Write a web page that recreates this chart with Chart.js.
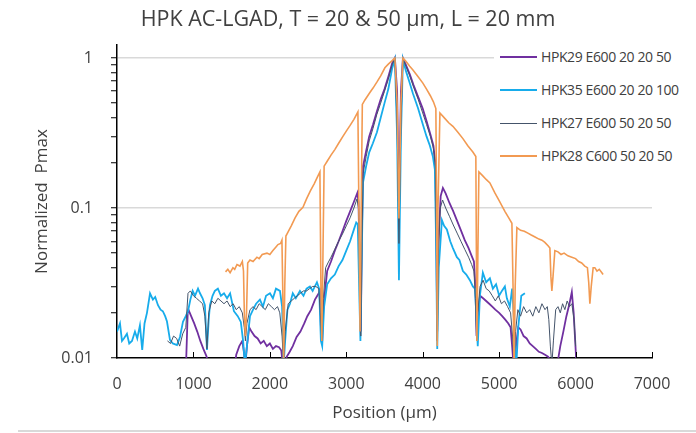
<!DOCTYPE html>
<html>
<head>
<meta charset="utf-8">
<script src="https://cdn.jsdelivr.net/npm/chart.js@4.4.1/dist/chart.umd.min.js"></script>
<style>
  html, body { margin: 0; padding: 0; background: #fff; overflow: hidden; }
  #wrap { position: relative; width: 696px; height: 433px; }
  #c { position: absolute; left: 0; top: 0; }
  #title { position: absolute; left: 0; top: 4px; width: 696px; text-align: center; font-family: "Open Sans", sans-serif; font-size: 21.5px; line-height: 28px; color: #404040; padding-left: 0; }
  #legend { position: absolute; left: 494px; top: 40px; width: 202px; height: 132px; background: #fff; overflow: hidden; }
  .row { position: absolute; left: 0; height: 20px; white-space: nowrap; }
  .swatch { position: absolute; left: 6px; width: 37px; }
  .lbl { position: absolute; left: 47px; top: 0; font-family: "Open Sans", sans-serif; font-size: 14px; line-height: 20px; color: #404040; letter-spacing: -0.4px; }
  #bottomline { position: absolute; left: 18px; top: 430px; width: 678px; height: 2px; background: #d9d9d9; }
</style>
</head>
<body>
<div id="wrap">
  <canvas id="c" width="696" height="433"></canvas>
  <div id="title"></div>
  <div id="legend"></div>
  <div id="bottomline"></div>
</div>
<script>
// ---------- DATA ----------
const chartTitle = "HPK AC-LGAD, T = 20 & 50 \u00b5m, L = 20 mm";
const xAxisTitle = "Position (\u00b5m)";
const yAxisTitle = "Normalized  Pmax";
const xTickValues = [0, 1000, 2000, 3000, 4000, 5000, 6000, 7000];
const yLabelValues = [0.01, 0.1, 1];
const yMinorTicks = [0.01,0.02,0.03,0.04,0.05,0.06,0.07,0.08,0.09,0.1,0.2,0.3,0.4,0.5,0.6,0.7,0.8,0.9,1];
const seriesNames = ["HPK29 E600 20 20 50", "HPK35 E600 20 20 100", "HPK27 E600 50 20 50", "HPK28 C600 50 20 50"];

// HPK29 E600 20 20 50 (purple)
const hpk29X = [900,925,935,970,1010,1050,1090,1130,1170,1200,1300,1450,1530,1560,1600,1640,1660,1680,1700,1730,1760,1800,1840,1880,1920,1960,2000,2040,2080,2120,2150,2180,2220,2260,2300,2350,2400,2450,2490,2540,2590,2640,2655,2668,2685,2700,2750,2800,2850,2900,2950,3000,3050,3100,3145,3160,3175,3190,3205,3220,3260,3300,3350,3400,3450,3500,3550,3600,3636,3665,3689,3715,3741,3780,3830,3880,3940,4000,4050,4100,4140,4165,4178,4190,4205,4235,4264,4300,4350,4400,4450,4500,4550,4600,4640,4670,4690,4705,4720,4750,4790,4830,4870,4910,4950,5000,5040,5080,5120,5150,5170,5195,5220,5250,5280,5320,5360,5400,5440,5480,5520,5560,5600,5640,5680,5720,5760,5800,5840,5880,5920,5951,5975,5995,6017];
const hpk29Y = [0.008,0.02,0.021,0.019,0.017,0.015,0.013,0.0115,0.0103,0.009,0.008,0.008,0.008,0.0105,0.012,0.013,0.011,0.009,0.012,0.016,0.015,0.014,0.0135,0.0125,0.013,0.012,0.0125,0.0115,0.012,0.0118,0.0112,0.008,0.0102,0.011,0.012,0.0138,0.015,0.017,0.019,0.021,0.0245,0.027,0.028,0.016,0.013,0.022,0.038,0.044,0.052,0.06,0.07,0.082,0.095,0.11,0.126,0.11,0.04,0.015,0.07,0.19,0.24,0.3,0.36,0.44,0.53,0.62,0.75,0.92,1.0,0.6,0.1,0.6,1.0,0.9,0.78,0.66,0.55,0.46,0.38,0.31,0.26,0.2,0.07,0.015,0.06,0.12,0.136,0.125,0.108,0.095,0.082,0.071,0.061,0.054,0.048,0.044,0.03,0.014,0.02,0.026,0.025,0.024,0.023,0.022,0.021,0.02,0.019,0.018,0.017,0.016,0.012,0.008,0.012,0.016,0.0155,0.014,0.0135,0.0125,0.012,0.0115,0.011,0.0108,0.0105,0.0102,0.0095,0.009,0.009,0.012,0.015,0.019,0.023,0.0275,0.02,0.013,0.008];

// HPK35 E600 20 20 100 (light blue)
const hpk35X = [0,20,39,65,90,130,160,196,235,265,300,330,360,392,432,470,500,536,570,600,630,654,693,730,785,824,863,900,929,960,990,1020,1060,1086,1120,1150,1177,1200,1216,1250,1280,1320,1360,1400,1440,1480,1530,1580,1620,1650,1674,1700,1740,1780,1820,1870,1910,1950,2001,2040,2080,2132,2160,2180,2200,2230,2263,2300,2340,2394,2440,2480,2524,2560,2616,2645,2668,2685,2710,2750,2800,2850,2900,2950,3000,3050,3100,3130,3150,3168,3185,3200,3218,3260,3300,3348,3401,3450,3500,3550,3600,3636,3665,3689,3715,3741,3780,3830,3872,3940,4002,4050,4094,4133,4159,4175,4190,4210,4251,4280,4316,4360,4395,4447,4480,4526,4570,4617,4656,4683,4700,4720,4748,4787,4830,4879,4918,4960,5000,5036,5075,5101,5140,5170,5195,5220,5250,5290,5337];
const hpk35Y = [0.015,0.016,0.017,0.013,0.0135,0.0145,0.0125,0.013,0.015,0.0135,0.0165,0.0113,0.017,0.02,0.027,0.0245,0.0255,0.0225,0.021,0.0205,0.019,0.0175,0.0132,0.0125,0.0122,0.0138,0.0174,0.019,0.0205,0.0245,0.028,0.026,0.029,0.027,0.025,0.0225,0.0113,0.018,0.0225,0.026,0.028,0.029,0.026,0.027,0.025,0.027,0.0205,0.019,0.0174,0.013,0.009,0.012,0.019,0.021,0.023,0.0245,0.022,0.026,0.027,0.025,0.029,0.028,0.022,0.009,0.013,0.021,0.023,0.027,0.025,0.028,0.026,0.029,0.03,0.028,0.032,0.029,0.013,0.012,0.022,0.031,0.034,0.036,0.041,0.045,0.052,0.06,0.072,0.08,0.078,0.03,0.013,0.04,0.147,0.19,0.235,0.27,0.32,0.4,0.5,0.62,0.85,0.98,0.3,0.033,0.3,0.98,0.82,0.68,0.58,0.46,0.36,0.3,0.26,0.22,0.18,0.06,0.0115,0.04,0.083,0.076,0.072,0.06,0.054,0.047,0.045,0.038,0.036,0.033,0.03,0.029,0.02,0.012,0.026,0.037,0.032,0.034,0.029,0.031,0.026,0.028,0.03,0.025,0.022,0.029,0.018,0.008,0.016,0.026,0.027,0.024];

// HPK27 E600 50 20 50 (dark slate)
const hpk27X = [660,700,740,780,820,860,900,929,960,1000,1040,1080,1120,1150,1177,1200,1240,1280,1320,1360,1400,1440,1480,1520,1560,1600,1640,1665,1680,1700,1740,1780,1820,1860,1900,1940,1980,2020,2060,2100,2130,2160,2180,2200,2240,2280,2320,2360,2400,2440,2480,2520,2560,2600,2640,2660,2680,2700,2730,2760,2800,2850,2900,2950,3000,3050,3100,3140,3160,3175,3190,3205,3220,3260,3300,3350,3400,3450,3500,3550,3600,3636,3665,3689,3715,3741,3780,3830,3880,3940,4000,4050,4100,4140,4165,4178,4190,4205,4230,4260,4300,4350,4400,4450,4500,4550,4600,4640,4670,4690,4705,4720,4750,4790,4830,4870,4910,4950,4990,5030,5070,5110,5150,5175,5195,5215,5245,5280,5320,5360,5400,5440,5480,5520,5560,5600,5630,5650,5670,5690,5710,5740,5770,5800,5830,5860,5890,5920,5951,5980,6000];
const hpk27Y = [0.013,0.0125,0.014,0.0135,0.012,0.0145,0.016,0.027,0.028,0.026,0.025,0.024,0.023,0.019,0.0115,0.02,0.024,0.023,0.025,0.024,0.023,0.024,0.022,0.023,0.021,0.022,0.02,0.016,0.013,0.017,0.021,0.022,0.021,0.023,0.022,0.021,0.023,0.022,0.021,0.022,0.02,0.014,0.009,0.015,0.023,0.024,0.025,0.026,0.027,0.028,0.028,0.029,0.03,0.03,0.029,0.02,0.013,0.025,0.04,0.043,0.047,0.053,0.06,0.067,0.076,0.086,0.1,0.115,0.1,0.04,0.014,0.06,0.17,0.22,0.28,0.34,0.42,0.5,0.6,0.72,0.9,0.99,0.35,0.058,0.35,0.99,0.88,0.76,0.64,0.53,0.43,0.36,0.3,0.25,0.19,0.06,0.013,0.05,0.1,0.113,0.1,0.088,0.077,0.068,0.06,0.053,0.047,0.042,0.038,0.025,0.013,0.02,0.03,0.033,0.029,0.028,0.026,0.024,0.026,0.023,0.024,0.022,0.02,0.014,0.009,0.015,0.021,0.019,0.022,0.02,0.021,0.019,0.022,0.02,0.023,0.021,0.022,0.018,0.012,0.009,0.013,0.021,0.022,0.02,0.023,0.021,0.024,0.022,0.023,0.018,0.012];

// HPK28 C600 50 20 50 (orange)
const hpk28X = [1420,1450,1480,1517,1540,1570,1609,1640,1655,1668,1680,1695,1710,1740,1780,1831,1860,1900,1962,2000,2040,2080,2106,2140,2158,2168,2180,2195,2210,2237,2280,2330,2380,2433,2480,2530,2580,2620,2655,2668,2680,2695,2710,2750,2800,2850,2900,2956,3000,3050,3100,3152,3165,3180,3195,3210,3244,3300,3350,3400,3450,3505,3550,3600,3636,3665,3689,3715,3741,3780,3830,3872,3940,4002,4050,4100,4140,4172,4182,4190,4200,4225,4280,4340,4395,4460,4526,4590,4656,4695,4709,4722,4735,4780,4830,4879,4944,5000,5075,5120,5167,5182,5195,5210,5232,5280,5330,5376,5420,5470,5520,5560,5598,5640,5664,5677,5690,5705,5729,5770,5810,5850,5900,5951,6000,6040,6080,6120,6155,6172,6187,6205,6230,6252,6280,6310,6344,6360];
const hpk28Y = [0.0375,0.039,0.037,0.04,0.039,0.042,0.041,0.044,0.038,0.018,0.014,0.02,0.043,0.045,0.044,0.047,0.046,0.049,0.05,0.049,0.052,0.055,0.057,0.058,0.061,0.03,0.009,0.03,0.065,0.069,0.076,0.086,0.095,0.101,0.115,0.13,0.145,0.16,0.174,0.03,0.013,0.05,0.19,0.205,0.225,0.245,0.27,0.3,0.325,0.355,0.39,0.437,0.1,0.015,0.1,0.49,0.525,0.58,0.63,0.69,0.76,0.86,0.91,0.96,1.0,0.5,0.085,0.5,1.0,0.95,0.88,0.83,0.75,0.68,0.62,0.56,0.51,0.46,0.1,0.012,0.1,0.43,0.4,0.37,0.35,0.32,0.29,0.26,0.236,0.22,0.013,0.05,0.174,0.165,0.155,0.147,0.126,0.112,0.095,0.087,0.079,0.03,0.008,0.03,0.074,0.071,0.07,0.068,0.066,0.064,0.062,0.061,0.059,0.056,0.054,0.035,0.028,0.035,0.052,0.051,0.049,0.05,0.048,0.047,0.046,0.044,0.043,0.041,0.04,0.032,0.023,0.03,0.04,0.04,0.038,0.039,0.037,0.036];

// ---------- CHART ----------
const COLORS = ["#7030A0", "#17ACEB", "#44546A", "#F29A52"];
const WIDTHS = [1.8, 1.8, 1.0, 1.6];
const xs = [hpk29X, hpk35X, hpk27X, hpk28X];
const ys = [hpk29Y, hpk35Y, hpk27Y, hpk28Y];

const datasets = seriesNames.map((name, i) => ({
  label: name,
  data: xs[i].map((x, k) => ({ x: x, y: ys[i][k] })),
  borderColor: COLORS[i],
  backgroundColor: COLORS[i],
  borderWidth: WIDTHS[i],
  pointRadius: 0,
  tension: 0,
  order: 3 - i
}));

const TXT = "#404040";
const FONT = '"Open Sans", sans-serif';

document.getElementById('title').textContent = chartTitle;

const inwardTicks = {
  id: 'inwardTicks',
  afterDraw(chart) {
    const { ctx, chartArea, scales } = chart;
    ctx.save();
    ctx.strokeStyle = '#000';
    ctx.lineWidth = 1;
    xTickValues.forEach(v => {
      if (v === 0) return;
      const px = Math.round(scales.x.getPixelForValue(v)) + 0.5;
      ctx.beginPath();
      ctx.moveTo(px, chartArea.bottom);
      ctx.lineTo(px, chartArea.bottom - 6);
      ctx.stroke();
    });
    ctx.restore();
  }
};

new Chart(document.getElementById('c'), {
  type: 'line',
  data: { datasets },
  plugins: [inwardTicks],
  options: {
    responsive: false,
    animation: false,
    events: [],
    layout: { padding: { left: 0, right: 44, top: 45, bottom: 0 } },
    plugins: {
      legend: { display: false },
      tooltip: { enabled: false },
      title: { display: false }
    },
    scales: {
      x: {
        type: 'linear',
        min: 0, max: 7000,
        afterBuildTicks: (s) => { s.ticks = xTickValues.map(v => ({ value: v })); },
        afterFit: (s) => { s.height = 75; },
        grid: { display: false, drawTicks: false },
        border: { display: true, color: '#000', width: 1.5 },
        ticks: { color: TXT, font: { family: FONT, size: 16 }, padding: 17, maxRotation: 0, autoSkip: false,
                 callback: (v) => String(v) },
        title: { display: true, text: xAxisTitle, color: TXT, font: { family: FONT, size: 17 }, padding: { top: 0, bottom: 10 } }
      },
      y: {
        type: 'logarithmic',
        min: 0.01, max: 1.22,
        afterBuildTicks: (s) => { s.ticks = yMinorTicks.map(v => ({ value: v })); },
        afterFit: (s) => { s.width = 117; },
        grid: {
          color: (c) => (c.tick && (c.tick.value === 0.1 || c.tick.value === 1)) ? '#D9D9D9' : 'rgba(0,0,0,0)',
          lineWidth: 1.5,
          tickColor: '#000',
          tickLength: 6,
          tickWidth: 1,
          drawTicks: true
        },
        border: { display: true, color: '#000', width: 1.5 },
        ticks: {
          autoSkip: false,
          color: TXT,
          font: { family: FONT, size: 16 },
          padding: 18,
          callback: (v) => (yLabelValues.indexOf(v) >= 0 ? String(v) : '')
        },
        title: { display: true, text: yAxisTitle, color: TXT, font: { family: FONT, size: 17 }, padding: { top: 32, bottom: 0 } }
      }
    }
  }
});

// legend (HTML, real text)
const legendEl = document.getElementById('legend');
const rowTops = [7, 40, 73, 106];
seriesNames.forEach((name, i) => {
  const row = document.createElement('div');
  row.className = 'row';
  row.style.top = rowTops[i] + 'px';
  row.style.width = '210px';
  const sw = document.createElement('div');
  sw.className = 'swatch';
  const h = Math.max(1, Math.round(WIDTHS[i]));
  sw.style.height = h + 'px';
  sw.style.top = (10 - Math.floor(h / 2)) + 'px';
  sw.style.background = COLORS[i];
  const lb = document.createElement('div');
  lb.className = 'lbl';
  lb.textContent = name;
  row.appendChild(sw);
  row.appendChild(lb);
  legendEl.appendChild(row);
});
</script>
</body>
</html>
